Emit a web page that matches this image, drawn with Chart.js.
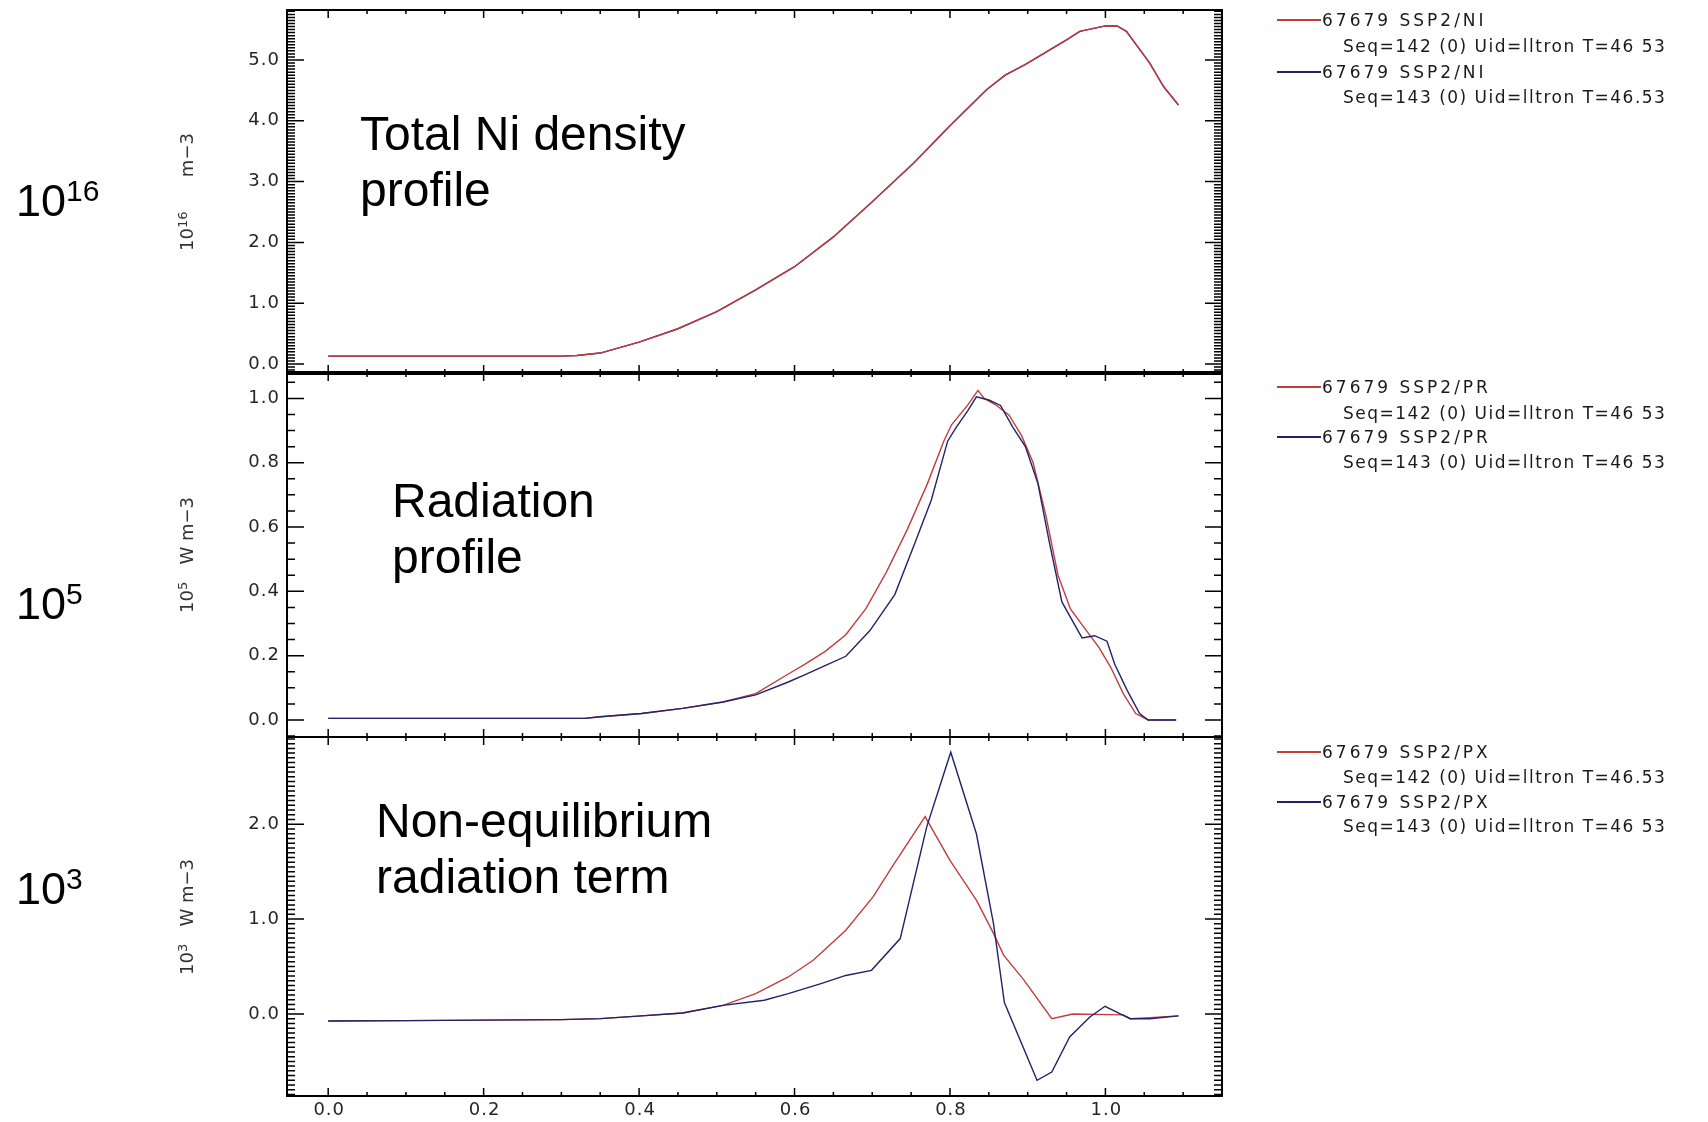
<!DOCTYPE html>
<html>
<head>
<meta charset="utf-8">
<script src="https://cdn.jsdelivr.net/npm/chart.js@4.4.1/dist/chart.umd.min.js"></script>
<style>
  body { margin: 0; background: #fff; }
  #wrap { position: relative; width: 1708px; height: 1122px; overflow: hidden; background: #fff; }
  canvas { position: absolute; left: 0; top: 0; }
  .big { position: absolute; font-family: "Liberation Sans", Arial, sans-serif; font-size: 48px; line-height: 56px; color: #000; white-space: nowrap; }
  .pow { position: absolute; left: 16px; font-family: "Liberation Sans", Arial, sans-serif; font-size: 45px; line-height: 45px; color: #000; white-space: nowrap; }
  .pow sup { font-size: 30px; vertical-align: 15px; line-height: 0; }
  .unit { position: absolute; left: 186px; font-family: "DejaVu Sans", sans-serif; font-size: 18px; color: #333; white-space: pre; transform: translate(-50%, -50%) rotate(-90deg); }
  .unit sup { font-size: 13px; vertical-align: 6px; line-height: 0; }
  .leg { position: absolute; font-family: "DejaVu Sans", sans-serif; font-size: 17px; line-height: 20px; color: #1a1a1a; white-space: pre; }
  .l1 { left: 1322px; letter-spacing: 3px; }
  .l2 { left: 1343px; letter-spacing: 1.5px; }
  .sw { position: absolute; left: 1277px; width: 44px; height: 2px; }
</style>
</head>
<body>
<div id="wrap">
  <canvas id="c1" width="1708" height="1122"></canvas>
  <canvas id="c2" width="1708" height="1122"></canvas>
  <canvas id="c3" width="1708" height="1122"></canvas>

  <div class="big" style="left:360px;top:106px">Total Ni density<br>profile</div>
  <div class="big" style="left:392px;top:473px">Radiation<br>profile</div>
  <div class="big" style="left:376px;top:793px">Non-equilibrium<br>radiation term</div>

  <div class="pow" style="top:178px">10<sup>16</sup></div>
  <div class="pow" style="top:581px">10<sup>5</sup></div>
  <div class="pow" style="top:866px">10<sup>3</sup></div>

  <div class="unit" style="top:192px">10<sup>16</sup>      m−3</div>
  <div class="unit" style="top:555px">10<sup>5</sup>   W m−3</div>
  <div class="unit" style="top:917px">10<sup>3</sup>   W m−3</div>

  <div id="legends"></div>
</div>

<script>
// rayon normalisé (axe x commun aux trois panneaux)
const xRange = [-0.053, 1.150];

// Panneau 1 : densité totale de Ni (10^16 m-3)
const niX = [0.0, 0.30, 0.32, 0.35, 0.40, 0.45, 0.50, 0.55, 0.60, 0.65, 0.70, 0.753, 0.80, 0.847, 0.871, 0.896, 0.95, 0.967, 1.00, 1.015, 1.027, 1.057, 1.075, 1.094];
const ni142 = [0.13, 0.13, 0.14, 0.18, 0.36, 0.58, 0.86, 1.22, 1.60, 2.09, 2.67, 3.30, 3.92, 4.51, 4.75, 4.92, 5.33, 5.47, 5.56, 5.56, 5.47, 4.95, 4.56, 4.26];
const ni143 = [0.13, 0.13, 0.14, 0.18, 0.36, 0.58, 0.86, 1.22, 1.60, 2.09, 2.67, 3.30, 3.92, 4.51, 4.75, 4.92, 5.33, 5.47, 5.56, 5.56, 5.47, 4.95, 4.56, 4.26];

// Panneau 2 : profil de rayonnement (10^5 W m-3)
const prX142 = [0.0, 0.33, 0.35, 0.403, 0.456, 0.508, 0.55, 0.592, 0.613, 0.640, 0.666, 0.692, 0.718, 0.745, 0.771, 0.792, 0.802, 0.823, 0.836, 0.844, 0.860, 0.876, 0.892, 0.907, 0.923, 0.939, 0.955, 0.976, 0.992, 1.007, 1.023, 1.039, 1.055, 1.091];
const pr142 = [0.005, 0.005, 0.010, 0.020, 0.036, 0.056, 0.082, 0.143, 0.173, 0.214, 0.265, 0.347, 0.459, 0.592, 0.735, 0.867, 0.918, 0.980, 1.025, 1.000, 0.978, 0.948, 0.885, 0.800, 0.640, 0.450, 0.345, 0.276, 0.224, 0.163, 0.082, 0.020, 0.0, 0.0];
const prX143 = [0.0, 0.33, 0.35, 0.403, 0.456, 0.508, 0.55, 0.592, 0.613, 0.640, 0.666, 0.697, 0.729, 0.755, 0.776, 0.797, 0.808, 0.823, 0.834, 0.850, 0.865, 0.881, 0.897, 0.913, 0.928, 0.944, 0.965, 0.970, 0.986, 1.002, 1.012, 1.028, 1.044, 1.055, 1.091];
const pr143 = [0.005, 0.005, 0.010, 0.020, 0.036, 0.056, 0.078, 0.118, 0.140, 0.170, 0.198, 0.278, 0.390, 0.551, 0.684, 0.867, 0.910, 0.962, 1.005, 0.995, 0.978, 0.910, 0.850, 0.737, 0.551, 0.367, 0.276, 0.255, 0.262, 0.245, 0.173, 0.092, 0.020, 0.0, 0.0];

// Panneau 3 : terme de rayonnement hors équilibre (10^3 W m-3)
const pxX142 = [0.0, 0.10, 0.20, 0.30, 0.35, 0.403, 0.456, 0.508, 0.55, 0.592, 0.624, 0.666, 0.701, 0.727, 0.768, 0.800, 0.834, 0.856, 0.869, 0.895, 0.931, 0.958, 1.023, 1.032, 1.057, 1.094];
const px142 = [-0.075, -0.070, -0.065, -0.060, -0.049, -0.020, 0.010, 0.090, 0.214, 0.390, 0.566, 0.883, 1.234, 1.568, 2.080, 1.620, 1.200, 0.850, 0.620, 0.360, -0.050, 0.0, -0.010, -0.050, -0.040, -0.020];
const pxX143 = [0.0, 0.10, 0.20, 0.30, 0.35, 0.403, 0.456, 0.508, 0.561, 0.592, 0.634, 0.666, 0.699, 0.736, 0.770, 0.801, 0.834, 0.856, 0.870, 0.912, 0.931, 0.954, 0.980, 0.9995, 1.023, 1.032, 1.057, 1.094];
const px143 = [-0.075, -0.070, -0.065, -0.060, -0.049, -0.020, 0.010, 0.090, 0.144, 0.214, 0.320, 0.406, 0.460, 0.795, 1.970, 2.760, 1.900, 0.953, 0.120, -0.700, -0.612, -0.243, -0.032, 0.081, -0.014, -0.050, -0.050, -0.020];

// Graduations
const xMajorTicks = [0.0, 0.2, 0.4, 0.6, 0.8, 1.0];
const niTicks = [0.0, 1.0, 2.0, 3.0, 4.0, 5.0];
const prTicks = [0.0, 0.2, 0.4, 0.6, 0.8, 1.0];
const pxTicks = [0.0, 1.0, 2.0];

// Légendes
const legendNi = ['67679 SSP2/NI', 'Seq=142 (0) Uid=lltron T=46 53', '67679 SSP2/NI', 'Seq=143 (0) Uid=lltron T=46.53'];
const legendPr = ['67679 SSP2/PR', 'Seq=142 (0) Uid=lltron T=46 53', '67679 SSP2/PR', 'Seq=143 (0) Uid=lltron T=46 53'];
const legendPx = ['67679 SSP2/PX', 'Seq=142 (0) Uid=lltron T=46.53', '67679 SSP2/PX', 'Seq=143 (0) Uid=lltron T=46 53'];

const RED = '#c43c3c';
const BLUE = '#22226a';
const W = 1708, H = 1122;
const PLOT_LEFT = 287, PLOT_RIGHT = 1222;

function toPoints(xs, ys) {
    return xs.map((x, i) => ({ x: x, y: ys[i] }));
}

// Cadre IDL : bordure + graduations vers l'intérieur + étiquettes
const idlFrame = {
    id: 'idlFrame',
    afterDatasetsDraw(chart, args, opts) {
        const { ctx, chartArea: a, scales } = chart;
        const x = scales.x, y = scales.y;
        ctx.save();
        ctx.strokeStyle = '#000';
        ctx.lineWidth = 1.5;
        ctx.beginPath();
        // graduations y (mineures tous les 0.05)
        const n0 = Math.ceil(y.min / 0.05 - 1e-6);
        for (let i = n0; i * 0.05 <= y.max + 1e-9; i++) {
            const v = i * 0.05;
            const major = Math.abs(v / opts.yStep - Math.round(v / opts.yStep)) < 1e-6;
            const len = major ? 17 : 8;
            const py = y.getPixelForValue(v);
            ctx.moveTo(a.left, py); ctx.lineTo(a.left + len, py);
            ctx.moveTo(a.right, py); ctx.lineTo(a.right - len, py);
        }
        // graduations x (mineures tous les 0.05)
        for (let i = 0; i * 0.05 <= x.max + 1e-9; i++) {
            const v = i * 0.05;
            const major = Math.abs(v / 0.2 - Math.round(v / 0.2)) < 1e-6;
            const len = major ? 8 : 4;
            const px = x.getPixelForValue(v);
            ctx.moveTo(px, a.top); ctx.lineTo(px, a.top + len);
            ctx.moveTo(px, a.bottom); ctx.lineTo(px, a.bottom - len);
        }
        ctx.stroke();

        // bordure
        ctx.lineWidth = 2;
        ctx.strokeRect(a.left, a.top, a.right - a.left, a.bottom - a.top);
        if (opts.thickBottom) {
            ctx.lineWidth = 4;
            ctx.beginPath();
            ctx.moveTo(a.left - 1, a.bottom); ctx.lineTo(a.right + 1, a.bottom);
            ctx.stroke();
        }

        // étiquettes
        ctx.fillStyle = '#262626';
        ctx.font = '18px "DejaVu Sans"';
        ctx.letterSpacing = '1px';
        ctx.textAlign = 'right';
        ctx.textBaseline = 'middle';
        opts.yTicks.forEach(t => {
            ctx.fillText(t.toFixed(1), a.left - 7, y.getPixelForValue(t));
        });
        if (opts.xLabels) {
            ctx.textAlign = 'center';
            xMajorTicks.forEach(t => {
                ctx.fillText(t.toFixed(1), x.getPixelForValue(t) + 1, a.bottom + 14);
            });
        }
        ctx.restore();
    }
};

function makePanel(id, top, bottom, yRange, dsRed, dsBlue, frameOpts) {
    return new Chart(document.getElementById(id), {
        type: 'line',
        data: {
            datasets: [
                { label: 'Seq=142', data: dsRed, borderColor: RED, order: frameOpts.redOrder },
                { label: 'Seq=143', data: dsBlue, borderColor: BLUE, order: frameOpts.blueOrder }
            ]
        },
        options: {
            responsive: false,
            animation: false,
            events: [],
            layout: { padding: { left: PLOT_LEFT, right: W - PLOT_RIGHT, top: top, bottom: H - bottom } },
            scales: {
                x: { type: 'linear', display: false, min: xRange[0], max: xRange[1] },
                y: { type: 'linear', display: false, min: yRange[0], max: yRange[1] }
            },
            elements: {
                point: { radius: 0 },
                line: { tension: 0, borderWidth: 1.4, fill: false }
            },
            plugins: {
                legend: { display: false },
                tooltip: { enabled: false },
                idlFrame: frameOpts
            }
        },
        plugins: [idlFrame]
    });
}

makePanel('c1', 10, 373, [-0.148, 5.822], toPoints(niX, ni142), toPoints(niX, ni143),
    { yTicks: niTicks, yStep: 1.0, thickBottom: true, xLabels: false, redOrder: 0, blueOrder: 1 });
makePanel('c2', 373, 737, [-0.053, 1.079], toPoints(prX142, pr142), toPoints(prX143, pr143),
    { yTicks: prTicks, yStep: 0.2, thickBottom: false, xLabels: false, redOrder: 1, blueOrder: 0 });
makePanel('c3', 737, 1096, [-0.865, 2.920], toPoints(pxX142, px142), toPoints(pxX143, px143),
    { yTicks: pxTicks, yStep: 1.0, thickBottom: false, xLabels: true, redOrder: 1, blueOrder: 0 });

// Légendes à droite (texte HTML)
function addLegend(lines, centers) {
    const box = document.getElementById('legends');
    lines.forEach((txt, i) => {
        const d = document.createElement('div');
        d.className = 'leg ' + (i % 2 === 0 ? 'l1' : 'l2');
        d.style.top = (centers[i] - 10) + 'px';
        d.textContent = txt;
        box.appendChild(d);
        if (i % 2 === 0) {
            const s = document.createElement('div');
            s.className = 'sw';
            s.style.top = (centers[i] - 1) + 'px';
            s.style.background = i === 0 ? RED : BLUE;
            box.appendChild(s);
        }
    });
}
addLegend(legendNi, [20, 46, 72, 97]);
addLegend(legendPr, [387, 413, 437, 462]);
addLegend(legendPx, [752, 777, 802, 826]);
</script>
</body>
</html>
